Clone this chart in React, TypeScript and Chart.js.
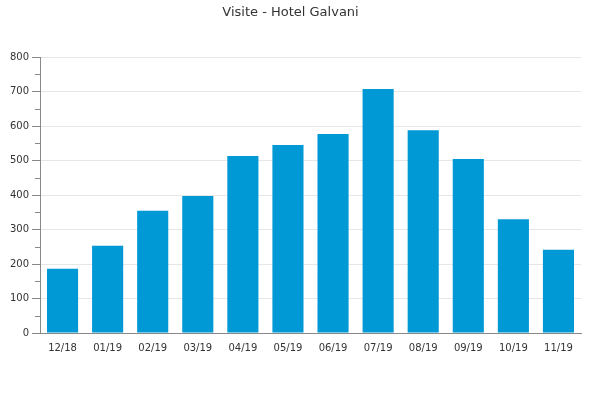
import React, { useEffect, useRef } from "react";
import { Chart, registerables } from "chart.js";

Chart.register(...registerables);

const categories = ["12/18", "01/19", "02/19", "03/19", "04/19", "05/19", "06/19", "07/19", "08/19", "09/19", "10/19", "11/19"];
const visits = [186, 253, 354, 397, 513, 545, 577, 707, 588, 504, 330, 241];
const minorTicks = [50, 150, 250, 350, 450, 550, 650, 750];
const titleText = "Visite - Hotel Galvani";

const FONT = "'DejaVu Sans', sans-serif";

const minorTickPlugin = {
  id: "minorTicks",
  afterDraw(chart: any) {
    const y = chart.scales.y;
    const ctx = chart.ctx;
    ctx.save();
    ctx.strokeStyle = "#888888";
    ctx.lineWidth = 1;
    for (const v of minorTicks) {
      const py = Math.round(y.getPixelForValue(v)) + 0.5;
      ctx.beginPath();
      ctx.moveTo(chart.chartArea.left - 5, py);
      ctx.lineTo(chart.chartArea.left, py);
      ctx.stroke();
    }
    ctx.restore();
  },
};

export default function App() {
  const ref = useRef<HTMLCanvasElement>(null);
  useEffect(() => {
    document.body.style.margin = "0";
    const chart = new Chart(ref.current!, {
      type: "bar",
      data: {
        labels: categories,
        datasets: [
          {
            data: visits,
            backgroundColor: "#0099D6",
            borderWidth: 0,
            barPercentage: 0.69,
            categoryPercentage: 1,
          },
        ],
      },
      plugins: [minorTickPlugin],
      options: {
        animation: false,
        responsive: false,
        devicePixelRatio: 1,
        layout: { padding: { left: 0, right: 19, top: 0, bottom: 42 } },
        plugins: {
          legend: { display: false },
          tooltip: { enabled: false },
          title: {
            display: true,
            text: titleText,
            color: "#333333",
            font: { family: FONT, size: 13, weight: "normal" },
            padding: { top: 5, bottom: 36.4 },
          },
        },
        scales: {
          x: {
            grid: { display: false, drawTicks: false },
            border: { display: true, color: "#888888", width: 1 },
            ticks: {
              color: "#333333",
              font: { family: FONT, size: 10 },
              padding: 9,
              maxRotation: 0,
              autoSkip: false,
            },
            afterFit(scale: any) {
              scale.height = 25;
            },
          },
          y: {
            min: 0,
            max: 800,
            ticks: {
              stepSize: 100,
              color: "#333333",
              font: { family: FONT, size: 10 },
              padding: 3,
            },
            grid: {
              color: "#e6e6e6",
              tickColor: "#888888",
              tickLength: 8,
            },
            border: { display: true, color: "#888888", width: 1 },
            afterFit(scale: any) {
              scale.width = 40;
            },
          },
        },
      },
    });
    return () => chart.destroy();
  }, []);
  return (
    <div style={{ position: "fixed", left: 0, top: 0, width: 600, height: 400, background: "#fff" }}>
      <canvas ref={ref} width={600} height={400} />
    </div>
  );
}
